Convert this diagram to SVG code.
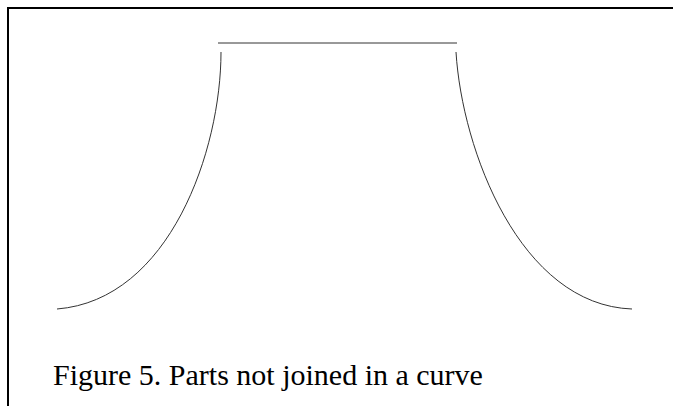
<svg xmlns="http://www.w3.org/2000/svg" width="673" height="406" viewBox="0 0 673 406">
<style>
.frame{fill:none;stroke:#000;stroke-width:2}
.ln{fill:none;stroke:#333;stroke-width:1}
.cap{font-family:"Liberation Serif","Times New Roman",serif;font-size:30px;fill:#000}
</style>
<rect width="673" height="406" fill="#fff"/>
<g id="frame"><path class="frame" d="M8,406 V8 H673"/></g>
<g id="top-line"><line class="ln" x1="218" y1="43" x2="457" y2="43"/></g>
<g id="left-curve"><path class="ln" d="M221,52 C221,150 170,300 57,309"/></g>
<g id="right-curve"><path class="ln" d="M456,52 C462,150 520,305 632,309"/></g>
<g id="caption"><text class="cap" x="53" y="385">Figure 5. Parts not joined in a curve</text></g>
</svg>
